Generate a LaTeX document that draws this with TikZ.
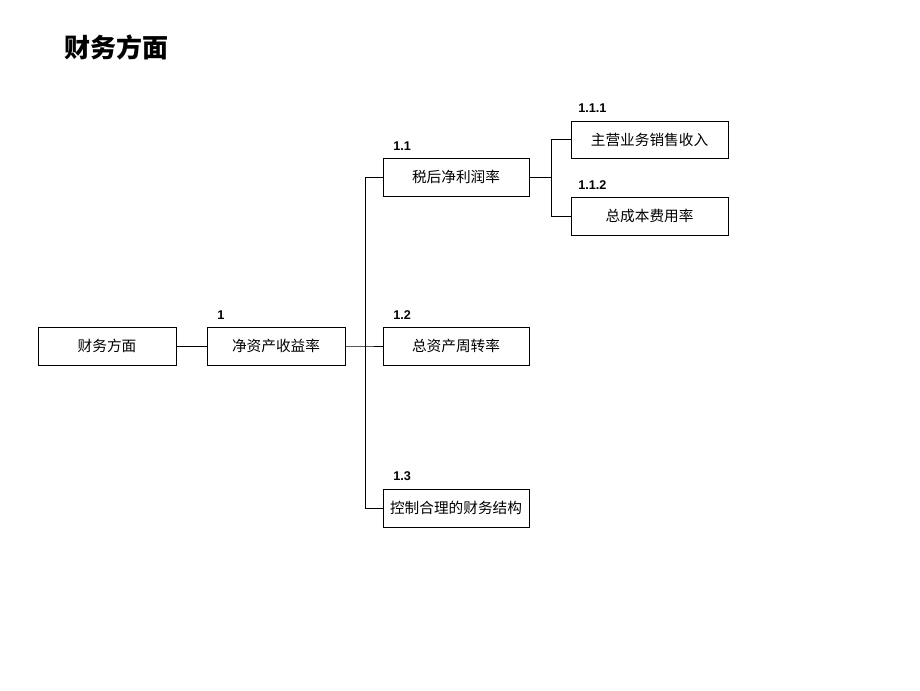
\documentclass[tikz,border=0pt]{standalone}
\usepackage{fontspec}
\setmainfont{Liberation Sans}
\newfontfamily\cjk{Noto Sans CJK SC}
\usetikzlibrary{positioning}

\tikzset{
  box/.style={draw,line width=0.65pt,minimum height=28.5pt,inner sep=0pt,font=\cjk\fontsize{11}{13}\selectfont},
  num/.style={anchor=base west,inner sep=0pt,font=\bfseries\fontsize{9.5}{11}\selectfont},
  link/.style={line width=0.65pt}
}

\begin{document}
\begin{tikzpicture}[x=0.75pt,y=-0.75pt]
    \useasboundingbox (0,0) rectangle (920,690);
    % Title
    \node (title) at (64,57) [anchor=base west,inner sep=0pt,font=\cjk\bfseries\fontsize{19.5}{22}\selectfont] {财务方面};

    % Nodes
    \node (cwfm) at (107,346) [box,minimum width=103.5pt] {财务方面};
    \node (jzc) at (276,346) [box,minimum width=103.5pt] {净资产收益率};
    \node (sh) at (456,177) [box,minimum width=109.5pt] {税后净利润率};
    \node (zz) at (456,346) [box,minimum width=109.5pt] {总资产周转率};
    \node (kz) at (456,508) [box,minimum width=109.5pt] {控制合理的财务结构};
    \node (zy) at (649.5,139.5) [box,minimum width=117.75pt,minimum height=27.75pt] {主营业务销售收入};
    \node (zc) at (649.5,216) [box,minimum width=117.75pt] {总成本费用率};

    % Numbers
    \node (n1) at (217,319) [num] {1};
    \node (n11) at (393,150) [num] {1.1};
    \node (n12) at (393,319) [num] {1.2};
    \node (n13) at (393,480) [num] {1.3};
    \node (n111) at (578,112) [num] {1.1.1};
    \node (n112) at (578,189) [num] {1.1.2};

    % Connectors
    \coordinate (b1) at (365,346);
    \coordinate (b2) at (551,177);
    \draw[link] (cwfm) -- (jzc);
    \draw[link] (jzc.east) -- (b1) -- (zz.west);
    \draw[link] (b1) |- (sh.west);
    \draw[link] (b1) |- (kz.west);
    \draw[link] (sh.east) -- (b2);
    \draw[link] (b2) |- (zy.west);
    \draw[link] (b2) |- (zc.west);
\end{tikzpicture}
\end{document}
